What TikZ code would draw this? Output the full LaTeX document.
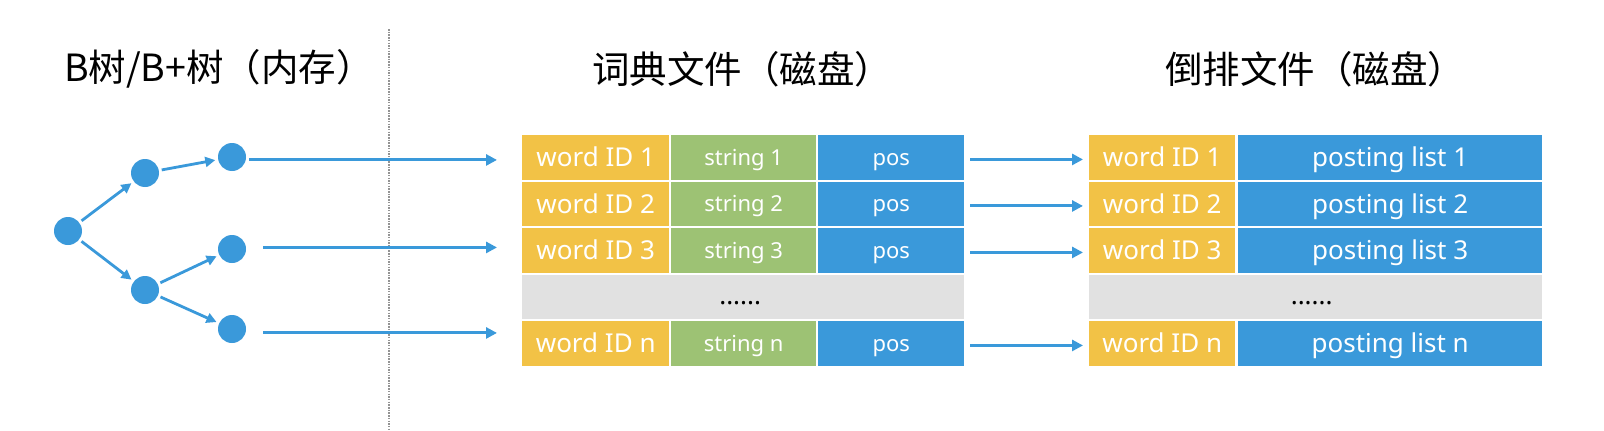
\documentclass[tikz,border=0pt]{standalone}
\usepackage{fontspec}
\setmainfont{Noto Sans}
\newfontfamily\cjk{Noto Sans CJK SC}
\usetikzlibrary{arrows.meta,calc}
\definecolor{cyel}{HTML}{F2C246}
\definecolor{cgrn}{HTML}{9DC274}
\definecolor{cblu}{HTML}{3A99DA}
\definecolor{cgry}{HTML}{E1E1E1}
\definecolor{cline}{HTML}{3A99DA}
\begin{document}
\begin{tikzpicture}[x=1pt,y=-1pt,
  cell/.style={anchor=north west, inner sep=0pt, minimum height=44.5pt, text=white},
  big/.style={font=\fontsize{26}{26}\selectfont, text height=18.6pt, text depth=0pt},
  small/.style={font=\fontsize{22}{22}\selectfont, text height=15.8pt, text depth=0pt},
  ycell/.style={cell, big, fill=cyel},
  gcell/.style={cell, small, fill=cgrn},
  bcell/.style={cell, fill=cblu},
  graycell/.style={cell, fill=cgry},
  dotstext/.style={inner sep=0pt, text=black, font=\fontsize{26}{26}\selectfont},
  title/.style={inner sep=0pt, font=\cjk\fontsize{37.5}{37.5}\selectfont},
  treenode/.style={circle, fill=cblu, minimum size=28pt, inner sep=0pt, outer sep=3pt},
  arr/.style={draw=cline, line width=3pt, -{Triangle[length=11pt,width=11pt]}},
  tarr/.style={draw=cline, line width=2.8pt, -{Triangle[length=10pt,width=10pt]}},
  sepline/.style={draw=gray!85, line width=1.3pt, dash pattern=on 1.5pt off 1.2pt}
]
\useasboundingbox (0,0) rectangle (1604,431);

% titles
\node[title] (t1) at (219,69) {B树/B+树（内存）};
\node[title] (t2) at (742,69) {词典文件（磁盘）};
\node[title] (t3) at (1315,69) {倒排文件（磁盘）};

% separator
\coordinate (vtop) at (389,29);
\coordinate (vbot) at (389,431);
\draw[sepline] (vtop) -- (vbot);

% dictionary table and posting table
\foreach \r in {1,2,3} {
  \pgfmathsetmacro\ty{135+46.5*(\r-1)}
  \node[ycell, minimum width=147pt] (a\r) at (522,\ty) {word ID \r};
  \node[gcell, minimum width=145pt] (s\r) at (671,\ty) {string \r};
  \node[bcell, small, minimum width=146pt] (p\r) at (818,\ty) {pos};
  \node[ycell, minimum width=146pt] (b\r) at (1089,\ty) {word ID \r};
  \node[bcell, big, minimum width=304pt] (l\r) at (1238,\ty) {posting list \r};
}
\node[graycell, minimum width=442pt] (g1) at (522,274.5) {};
\node[graycell, minimum width=453pt] (g2) at (1089,274.5) {};
\node[dotstext] (d1) at ($(g1.center)+(-3,6)$) {......};
\node[dotstext] (d2) at ($(g2.center)+(-4,6)$) {......};
\node[ycell, minimum width=147pt] (an) at (522,321) {word ID n};
\node[gcell, minimum width=145pt] (sn) at (671,321) {string n};
\node[bcell, small, minimum width=146pt] (pn) at (818,321) {pos};
\node[ycell, minimum width=146pt] (bn) at (1089,321) {word ID n};
\node[bcell, big, minimum width=304pt] (ln) at (1238,321) {posting list n};

% tree
\node[treenode] (root) at (68,231) {};
\node[treenode] (um) at (145,173) {};
\node[treenode] (lm) at (145,290) {};
\node[treenode] (f1) at (232,157) {};
\node[treenode] (f2) at (232,249) {};
\node[treenode] (f3) at (232,329) {};
\draw[tarr] (root) -- (um);
\draw[tarr] (root) -- (lm);
\draw[tarr] (um) -- (f1);
\draw[tarr] (lm) -- (f2);
\draw[tarr] (lm) -- (f3);

% tree to dictionary
\coordinate (h1) at ($(a1.west)+(-25,2.5)$);
\coordinate (h2) at ($(a3.west)+(-25,-3)$);
\coordinate (h3) at ($(an.west)+(-25,-10.5)$);
\draw[arr] (f1.east |- h1) -- (h1);
\draw[arr] ($(f2.east |- h2)+(14,0)$) -- (h2);
\draw[arr] ($(f3.east |- h3)+(14,0)$) -- (h3);

% dictionary to posting
\foreach \r in {1,2,3,n} {
  \draw[arr] ($(p\r.east)+(6,2)$) -- ($(b\r.west)+(-6,2)$);
}
\end{tikzpicture}
\end{document}
